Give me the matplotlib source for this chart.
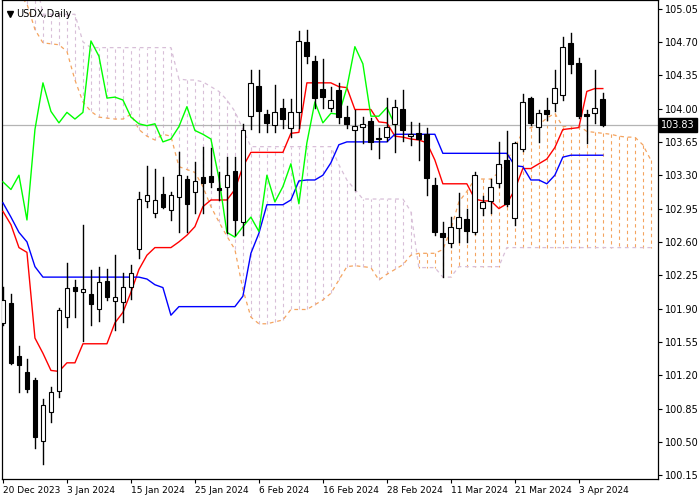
import numpy as np
import matplotlib
matplotlib.use("Agg")
from matplotlib import pyplot as plt
from matplotlib.patches import Rectangle

# daily candles, bar 0 = 20 Dec 2023
opens = [101.75, 101.96, 101.40, 101.23, 101.15, 100.51, 100.81, 101.03, 101.81, 102.13,
         102.07, 102.05, 101.90, 102.19, 101.98, 101.97, 102.13, 102.52, 103.03, 102.90,
         103.10, 102.94, 103.07, 103.26, 103.12, 103.28, 103.29, 103.17, 103.18, 103.34,
         102.81, 103.92, 104.24, 103.94, 103.83, 104.01, 103.80, 103.96, 104.70, 104.50,
         104.21, 104.01, 104.20, 103.91, 103.78, 103.81, 103.87, 103.69, 103.70, 103.84,
         104.00, 103.71, 103.74, 103.73, 103.20, 102.69, 102.59, 102.75, 102.84, 102.70,
         102.96, 103.03, 103.22, 103.46, 102.85, 103.58, 104.11, 103.81, 103.98, 104.06,
         104.14, 104.69, 104.48, 103.94, 103.95, 104.10]
highs = [102.13, 102.05, 101.51, 101.37, 101.17, 100.95, 101.08, 101.91, 102.38, 102.20,
         102.78, 102.30, 102.34, 102.32, 102.46, 102.27, 102.36, 103.12, 103.40, 103.37,
         103.28, 103.12, 103.54, 103.29, 103.44, 103.60, 103.59, 103.33, 103.49, 103.49,
         103.84, 104.41, 104.40, 103.98, 104.25, 104.10, 104.10, 104.81, 104.82, 104.55,
         104.52, 104.23, 104.27, 104.03, 103.99, 103.91, 103.90, 103.80, 104.11, 104.09,
         104.19, 103.86, 103.85, 103.80, 103.27, 102.81, 102.86, 103.11, 102.95, 103.33,
         103.08, 103.26, 103.65, 103.76, 103.65, 104.15, 104.12, 103.98, 104.11, 104.40,
         104.75, 104.79, 104.53, 103.98, 104.41, 104.16]
lows = [101.73, 101.32, 101.02, 101.02, 100.44, 100.27, 100.71, 100.97, 101.71, 101.81,
        101.56, 101.73, 101.77, 101.99, 101.67, 101.76, 102.00, 102.43, 102.97, 102.86,
        102.96, 102.83, 102.70, 102.70, 102.90, 102.90, 103.18, 103.04, 102.69, 102.67,
        102.67, 103.79, 103.75, 103.75, 103.75, 103.80, 103.70, 103.80, 104.48, 104.01,
        104.01, 103.97, 103.85, 103.80, 103.15, 103.64, 103.58, 103.48, 103.66, 103.54,
        103.66, 103.62, 103.46, 103.09, 102.67, 102.23, 102.55, 102.60, 102.60, 102.68,
        102.88, 102.90, 103.18, 102.98, 102.78, 103.55, 103.83, 103.65, 103.88, 103.97,
        104.09, 104.37, 103.90, 103.64, 103.85, 103.82]
closes = [101.99, 101.33, 101.31, 101.06, 100.55, 100.89, 101.02, 101.88, 102.12, 102.08,
          102.10, 101.95, 102.18, 102.02, 102.02, 102.13, 102.27, 103.05, 103.09, 103.04,
          102.97, 103.09, 103.30, 103.00, 103.24, 103.22, 103.23, 103.15, 103.30, 102.83,
          103.78, 104.27, 103.97, 103.85, 103.96, 103.89, 103.96, 104.71, 104.55, 104.11,
          104.12, 104.09, 103.91, 103.84, 103.82, 103.84, 103.65, 103.68, 103.81, 104.02,
          103.77, 103.73, 103.68, 103.27, 102.70, 102.65, 102.76, 102.86, 102.71, 103.30,
          103.02, 103.18, 103.42, 103.00, 103.64, 104.07, 103.85, 103.95, 103.94, 104.22,
          104.65, 104.47, 103.92, 103.92, 104.01, 103.83]

tenkan = [102.92, 102.78, 102.54, 102.49, 101.59, 101.43, 101.25, 101.24, 101.33, 101.33,
          101.53, 101.53, 101.53, 101.53, 101.75, 101.86, 102.07, 102.31, 102.46, 102.54,
          102.54, 102.54, 102.60, 102.67, 102.76, 102.97, 103.04, 103.04, 103.04, 103.15,
          103.39, 103.54, 103.54, 103.54, 103.54, 103.54, 103.74, 103.75, 104.27, 104.27,
          104.27, 104.27, 104.23, 104.22, 103.99, 103.99, 103.99, 103.86, 103.85, 103.71,
          103.70, 103.68, 103.67, 103.64, 103.46, 103.21, 103.21, 103.21, 103.21, 103.05,
          103.03, 103.03, 102.95, 103.00, 103.15, 103.37, 103.37, 103.42, 103.47, 103.59,
          103.78, 103.79, 103.80, 104.18, 104.21, 104.21]
kijun = [103.01, 102.86, 102.70, 102.60, 102.34] + [102.23] * 13 + [102.21, 102.15, 102.12, 101.83] + \
        [101.92] * 8 + [102.03, 102.48, 102.69, 102.99, 102.99, 102.99, 103.04, 103.24, 103.25, 103.25,
        103.30, 103.43, 103.62] + [103.65] * 6 + [103.73] * 6 + [103.53] * 9 + \
        [103.40, 103.39, 103.25, 103.25, 103.21, 103.30, 103.49] + [103.51] * 5

# cloud, bars 0..81
span_a = [105.40, 105.30, 105.20, 105.10, 104.83, 104.69, 104.68, 104.67, 104.60, 104.30,
          104.07, 103.97, 103.91, 103.90, 103.89, 103.89, 103.94, 103.78, 103.71, 103.67,
          103.73, 103.71, 103.39, 103.36, 103.33, 103.18, 102.97, 102.81, 102.66, 102.52,
          102.10, 101.81, 101.74, 101.74, 101.76, 101.78, 101.89, 101.89, 101.89, 101.94,
          101.99, 102.06, 102.20, 102.34, 102.35, 102.34, 102.33, 102.20, 102.26, 102.31,
          102.36, 102.46, 102.48, 102.48, 102.48, 102.52, 102.73, 103.02, 103.13, 103.26,
          103.26, 103.26, 103.33, 103.46, 103.59, 103.76, 103.80, 103.83, 103.90, 103.95,
          103.81, 103.82, 103.82, 103.76, 103.75, 103.74, 103.73, 103.71, 103.70, 103.70,
          103.62, 103.46]
span_b = [105.40] * 5 + [104.99] * 5 + [104.70] + [104.64] * 11 + \
         [104.31, 104.30, 104.30, 104.28, 104.23, 104.18, 104.09, 103.97, 103.78] + [103.60] * 11 + \
         [103.41, 103.25, 103.15] + [103.05] * 6 + [102.92, 102.33, 102.33, 102.33, 102.23, 102.23] + \
         [102.34] * 6 + [102.54] * 19

last_price = 103.83
price_ticks = [105.05, 104.70, 104.35, 104.00, 103.65, 103.30, 102.95, 102.60, 102.25,
               101.90, 101.55, 101.20, 100.85, 100.50, 100.15]
date_labels = ["20 Dec 2023", "3 Jan 2024", "15 Jan 2024", "25 Jan 2024", "6 Feb 2024",
               "16 Feb 2024", "28 Feb 2024", "11 Mar 2024", "21 Mar 2024", "3 Apr 2024"]

fig = plt.figure(figsize=(7, 5), dpi=100)
ax = fig.add_axes([2 / 700, 21 / 500, 656 / 700, 479 / 500])

# cloud hatching + borders
sa = np.array(span_a)
sb = np.array(span_b)
for i in range(len(sa)):
    col = "#f4a460" if sa[i] >= sb[i] else "#d8bfd8"
    ax.plot([i, i], [sa[i], sb[i]], color=col, lw=0.8, ls=(0, (3, 3)), zorder=1)
ax.plot(range(len(sa)), sa, color="#f4a460", lw=0.9, ls=(0, (3, 3)), zorder=1)
ax.plot(range(len(sb)), sb, color="#d8bfd8", lw=0.9, ls=(0, (3, 3)), zorder=1)

ax.axhline(last_price, color="#b4b4b4", lw=0.9, zorder=2)

ax.plot(range(len(tenkan)), tenkan, color="red", lw=1, zorder=3)
ax.plot(range(len(kijun)), kijun, color="blue", lw=1, zorder=3)
chikou = closes[26:]
ax.plot(range(len(chikou)), chikou, color="#00ff00", lw=1, zorder=3)

# candles
w = 0.6
for i in range(len(opens)):
    o, h, l, c = opens[i], highs[i], lows[i], closes[i]
    ax.plot([i, i], [l, h], color="black", lw=1, zorder=4)
    face = "white" if c >= o else "black"
    ax.add_patch(Rectangle((i - w / 2, min(o, c)), w, max(abs(c - o), 0.01),
                           facecolor=face, edgecolor="black", lw=0.8, zorder=5))

ax.set_xlim(-0.12, 81.9)
ax.set_ylim(100.11, 105.14)
ax.yaxis.tick_right()
ax.set_yticks(price_ticks)
ax.set_yticklabels([f"{p:.2f}" for p in price_ticks])
ax.set_xticks(range(0, 8 * len(date_labels), 8))
ax.set_xticklabels(date_labels, ha="left")
ax.tick_params(axis="y", labelsize=7, length=3, pad=2, direction="out")
ax.tick_params(axis="x", labelsize=6.5, length=3, pad=2, direction="out")
for s in ax.spines.values():
    s.set_linewidth(0.9)

ax.text(1.7, 104.99, "USDX,Daily", fontsize=7, va="center")
ax.plot([0.9], [104.99], marker="v", color="black", markersize=4)
ax.text(1.005, (last_price - 100.11) / (105.14 - 100.11), f"{last_price:.2f}",
        transform=ax.transAxes, fontsize=7, color="white", va="center", ha="left",
        bbox=dict(facecolor="black", edgecolor="black", pad=1.5))

fig.savefig("out.png", dpi=100)
